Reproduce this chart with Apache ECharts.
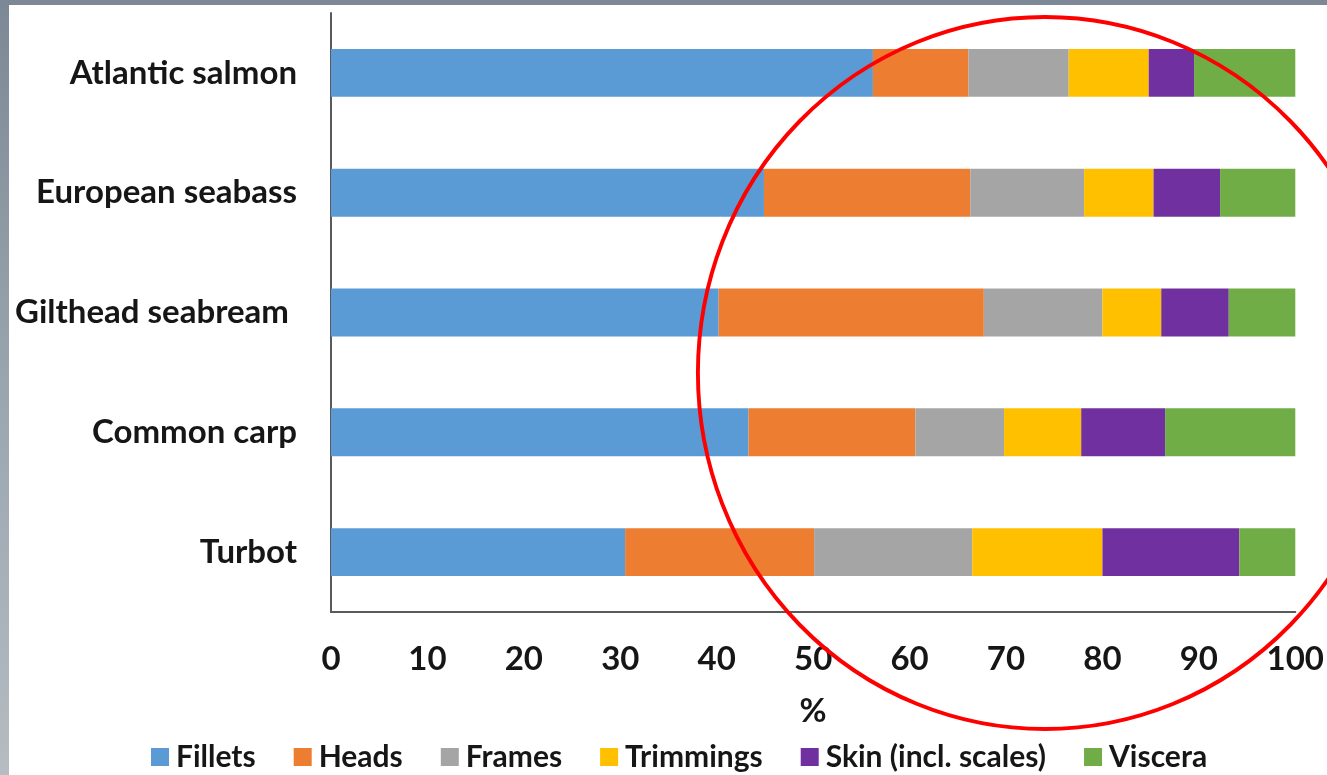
<!DOCTYPE html>
<html>
<head>
<meta charset="utf-8">
<script src="https://cdn.jsdelivr.net/npm/echarts@6/dist/echarts.min.js"></script>
<style>
  html, body { margin: 0; padding: 0; width: 1327px; height: 775px; overflow: hidden; }
  body { background: linear-gradient(180deg, #7c8895 0%, #9aa5ae 50%, #b5bcc2 100%); position: relative; }
  #panel { position: absolute; left: 9px; top: 5px; right: 0; bottom: 0; background: #ffffff; }
  #chart { position: absolute; left: 0; top: 0; width: 1327px; height: 775px; }
</style>
</head>
<body>
<div id="panel"></div>
<div id="chart"></div>
<script>
// Species, listed bottom-to-top as drawn on the category axis
const species = ['Turbot', 'Common carp', 'Gilthead seabream ', 'European seabass', 'Atlantic salmon'];

// Share of whole-fish weight (%) for each fraction, same order as species
const fillets    = [30.5, 43.3, 40.2, 44.9, 56.2];
const heads      = [19.6, 17.3, 27.5, 21.4,  9.9];
const frames     = [16.4,  9.2, 12.3, 11.8, 10.4];
const trimmings  = [13.5,  8.0,  6.1,  7.2,  8.3];
const skin       = [14.2,  8.7,  7.0,  6.9,  4.7];
const viscera    = [ 5.8, 13.5,  6.9,  7.8, 10.5];

const fractionNames = ['Fillets', 'Heads', 'Frames', 'Trimmings', 'Skin (incl. scales)', 'Viscera'];
const fractionData  = [fillets, heads, frames, trimmings, skin, viscera];
const fractionColors = ['#5b9bd5', '#ed7d31', '#a5a5a5', '#ffc000', '#7030a0', '#70ad47'];

const xTicks = [0, 10, 20, 30, 40, 50, 60, 70, 80, 90, 100];

const font = 'Lato, "Open Sans", sans-serif';
const ink = '#161616';

const chart = echarts.init(document.getElementById('chart'), null, { renderer: 'canvas' });

chart.setOption({
  backgroundColor: 'transparent',
  animation: false,
  grid: { left: 331, right: 31, top: 13, bottom: 163, containLabel: false },
  xAxis: {
    type: 'value',
    min: xTicks[0],
    max: xTicks[xTicks.length - 1],
    interval: 10,
    name: '%',
    nameLocation: 'middle',
    nameGap: 83,
    nameTextStyle: { fontFamily: font, fontWeight: 'bold', fontSize: 33, color: ink },
    axisLine: { show: true, lineStyle: { color: '#5a5a5a', width: 2 } },
    axisTick: { show: false },
    splitLine: { show: false },
    axisLabel: { fontFamily: font, fontWeight: 'bold', fontSize: 33, color: ink, margin: 31 }
  },
  yAxis: {
    type: 'category',
    data: species,
    axisLine: { show: true, lineStyle: { color: '#5a5a5a', width: 2 } },
    axisTick: { show: false },
    axisLabel: { fontFamily: font, fontWeight: 'bold', fontSize: 33, color: ink, margin: 34 }
  },
  legend: {
    left: 146,
    top: 737,
    itemWidth: 18,
    itemHeight: 18,
    itemGap: 38,
    icon: 'rect',
    textStyle: { fontFamily: font, fontWeight: 'bold', fontSize: 30, color: ink, padding: [0, 0, 0, 2] },
    data: fractionNames
  },
  series: fractionNames.map((name, i) => ({
    name: name,
    type: 'bar',
    stack: 'total',
    barWidth: '40%',
    itemStyle: { color: fractionColors[i] },
    data: fractionData[i]
  })),
  graphic: [{
    type: 'circle',
    shape: { cx: 0, cy: 0, r: 356 },
    x: 1045,
    y: 373,
    scaleX: 0.975,
    style: { fill: 'none', stroke: '#ff0000', lineWidth: 4 },
    z: 100
  }]
});
</script>
</body>
</html>
